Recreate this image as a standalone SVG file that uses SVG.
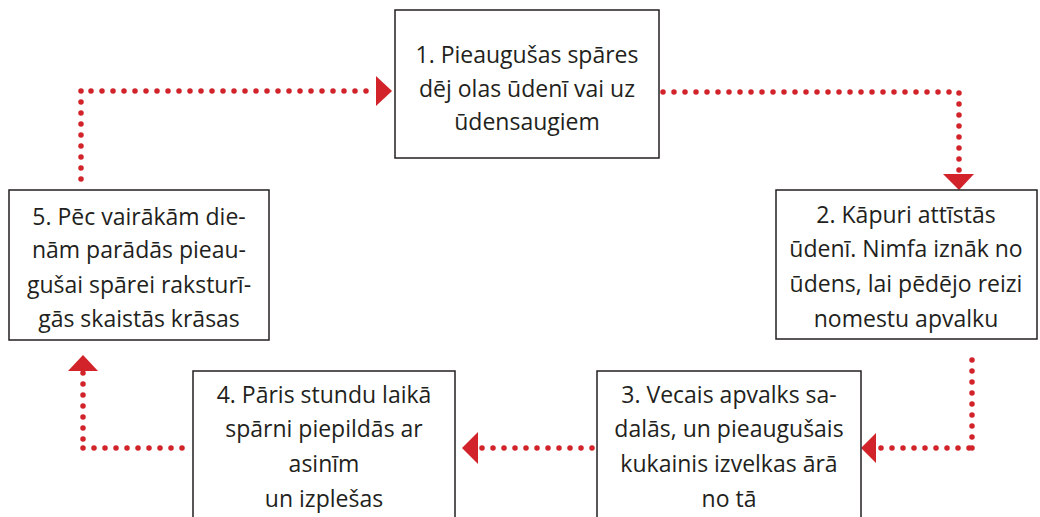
<svg xmlns="http://www.w3.org/2000/svg" width="1040" height="517" viewBox="0 0 1040 517">
<style>
.box{fill:#fff;stroke:#231f20;stroke-width:1.5}
.t{font-family:"Open Sans","Noto Sans","Liberation Sans",sans-serif;font-size:23px;fill:#231f20;text-anchor:middle}
.dot{fill:none;stroke:#d2232a;stroke-width:5.5;stroke-linecap:round;stroke-dasharray:0 11}
.ah{fill:#d2232a}
</style>
<rect width="1040" height="517" fill="#fff"/>
<g id="connectors">
<path class="dot" d="M366,91 H81 M81,91 V188"/>
<polygon class="ah" points="376,76 392,91 376,106"/>
<path class="dot" d="M663,92 H959 M959,170 V92"/>
<polygon class="ah" points="943,174 974,174 959,190"/>
<path class="dot" d="M972,448 V351 M881,448 H972"/>
<polygon class="ah" points="876,433 861,448 876,463"/>
<path class="dot" d="M482,448 H597"/>
<polygon class="ah" points="478,432 462,448 478,464"/>
<path class="dot" d="M83,448 H193 M83,373 V448"/>
<polygon class="ah" points="68,371 83,355 98,371"/>
</g>
<g id="node1">
<rect class="box" x="395" y="10" width="264" height="148"/>
<text class="t" x="527" y="63">1. Pieaugušas spāres</text>
<text class="t" x="527" y="97">dēj olas ūdenī vai uz</text>
<text class="t" x="527" y="130">ūdensaugiem</text>
</g>
<g id="node2">
<rect class="box" x="776" y="190" width="261" height="149"/>
<text class="t" x="906" y="223">2. Kāpuri attīstās</text>
<text class="t" x="906" y="257">ūdenī. Nimfa iznāk no</text>
<text class="t" x="906" y="292">ūdens, lai pēdējo reizi</text>
<text class="t" x="906" y="327">nomestu apvalku</text>
</g>
<g id="node3">
<rect class="box" x="597" y="371" width="264" height="160"/>
<text class="t" x="729" y="403">3. Vecais apvalks sa-</text>
<text class="t" x="729" y="437">dalās, un pieaugušais</text>
<text class="t" x="729" y="472">kukainis izvelkas ārā</text>
<text class="t" x="729" y="507">no tā</text>
</g>
<g id="node4">
<rect class="box" x="193" y="371" width="262" height="160"/>
<text class="t" x="324" y="403">4. Pāris stundu laikā</text>
<text class="t" x="324" y="437">spārni piepildās ar</text>
<text class="t" x="324" y="472">asinīm</text>
<text class="t" x="324" y="507">un izplešas</text>
</g>
<g id="node5">
<rect class="box" x="9" y="190" width="260" height="150"/>
<text class="t" x="139" y="225">5. Pēc vairākām die-</text>
<text class="t" x="139" y="258">nām parādās pieau-</text>
<text class="t" x="139" y="293">gušai spārei raksturī-</text>
<text class="t" x="139" y="327">gās skaistās krāsas</text>
</g>
</svg>
